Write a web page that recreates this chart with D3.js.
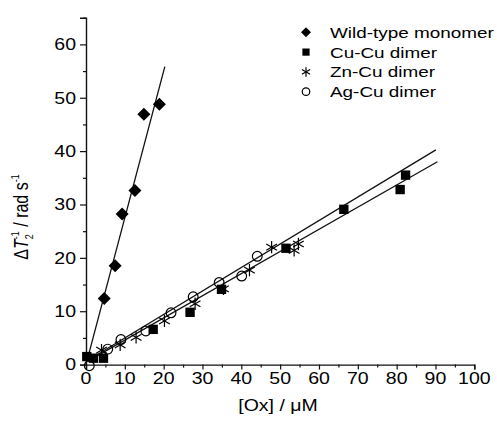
<!DOCTYPE html>
<html>
<head>
<meta charset="utf-8">
<script src="https://cdn.jsdelivr.net/npm/d3@7"></script>
<style>
  body { margin: 0; background: #fff; }
  text { font-family: "Liberation Sans", Arial, sans-serif; fill: #000; }
</style>
</head>
<body>
<div id="chart"></div>
<script>
// series names (legend order)
const seriesNames = ["Wild-type monomer", "Cu-Cu dimer", "Zn-Cu dimer", "Ag-Cu dimer"];
const seriesSymbols = ["diamond", "square", "star", "circle"];

// [Ox] (uM) and delta T2^-1 (rad/s)
const monoX = [4.7, 7.5, 9.3, 12.6, 14.9, 18.9];
const monoY = [12.4, 18.5, 28.2, 32.6, 46.9, 48.8];

const cuX = [0.2, 1.9, 4.5, 17.3, 26.8, 34.9, 51.5, 66.4, 80.9, 82.3];
const cuY = [1.5, 1.2, 1.2, 6.6, 9.8, 14.1, 21.8, 29.1, 32.8, 35.5];

const znX = [4.0, 8.8, 12.9, 20.2, 28.1, 35.4, 42.1, 47.8, 53.6, 54.7];
const znY = [2.7, 3.7, 5.1, 8.2, 11.4, 14.2, 17.7, 22.0, 21.4, 22.6];

const agX = [0.85, 5.6, 9.0, 15.4, 21.9, 27.6, 34.3, 40.1, 44.1];
const agY = [-0.2, 2.9, 4.7, 6.3, 9.7, 12.7, 15.4, 16.6, 20.3];

// linear fits: slope, intercept, x range
const fitSlopes = [2.75, 0.44, 0.415];
const fitIntercepts = [0.0, 0.6, 0.45];
const fitStart = [0.3, 0.5, 0.5];
const fitEnd = [20.3, 90.1, 90.5];

const xTicks = d3.range(0, 101, 10);
const yTicks = d3.range(0, 61, 10);

const W = 497, H = 421;
const stretch = 1.22;

const svg = d3.select("#chart").append("svg")
    .attr("width", W)
    .attr("height", H);

const x = d3.scaleLinear().domain([0, 100]).range([86, 474.3]);
const y = d3.scaleLinear().domain([0, 65]).range([364.6, 17.7]);

//Helper: text stretched horizontally like the scanned figure
function stretchedText(g, px, py, str, size, anchor) {
    return g.append("text")
        .attr("transform", "translate(" + px + "," + py + ") scale(" + stretch + ",1)")
        .attr("text-anchor", anchor)
        .style("font-size", size + "px")
        .text(str);
}

// fit lines
const lineG = svg.append("g");
fitSlopes.forEach(function(m, i) {
    lineG.append("line")
        .attr("x1", x(fitStart[i]))
        .attr("y1", y(m * fitStart[i] + fitIntercepts[i]))
        .attr("x2", x(fitEnd[i]))
        .attr("y2", y(m * fitEnd[i] + fitIntercepts[i]))
        .attr("stroke", "#111")
        .attr("stroke-width", 1.3);
});

// axes
const xAxis = d3.axisBottom(x).tickValues(xTicks).tickSize(5).tickFormat("");
const xMinor = d3.axisBottom(x).tickValues(d3.range(5, 100, 10)).tickSize(3).tickFormat("");
const yAxis = d3.axisLeft(y).tickValues(yTicks).tickSize(6).tickFormat("");
const yMinor = d3.axisLeft(y).tickValues(d3.range(5, 66, 10)).tickSize(3).tickFormat("");

const gx = svg.append("g").attr("transform", "translate(0," + y(0) + ")");
gx.call(xAxis);
gx.append("g").call(xMinor);
const gy = svg.append("g").attr("transform", "translate(" + x(0) + ",0)");
gy.call(yAxis);
gy.append("g").call(yMinor);
svg.selectAll(".domain").attr("stroke", "#111").attr("stroke-width", 1.4);
svg.selectAll(".tick line").attr("stroke", "#111").attr("stroke-width", 1.2);
gx.selectAll("g > g > .domain").remove();
gy.selectAll("g > g > .domain").remove();

xTicks.forEach(function(t) {
    stretchedText(svg, x(t), 383.5, t, 16, "middle");
});
yTicks.forEach(function(t) {
    stretchedText(svg, 76, y(t) + 5.8, t, 16, "end");
});

// axis titles
stretchedText(svg, 278, 411, "[Ox] / \u03bcM", 16, "middle");

const yLab = svg.append("text")
    .attr("transform", "translate(28,217) scale(" + stretch + ",1) rotate(-90)")
    .attr("text-anchor", "middle")
    .style("font-size", "16px");
yLab.append("tspan").text("\u0394");
yLab.append("tspan").style("font-style", "italic").text("T");
yLab.append("tspan").attr("dy", 4).style("font-size", "9px").text("2");
yLab.append("tspan").attr("dx", -5).attr("dy", -11).style("font-size", "9px").text("-1");
yLab.append("tspan").attr("dy", 7).text(" / rad s");
yLab.append("tspan").attr("dy", -7).style("font-size", "9px").text("-1");

// symbols
function drawSymbol(g, type, cx, cy, s) {
    if (type === "diamond") {
        g.append("path")
            .attr("d", "M" + cx + "," + (cy - s) + "L" + (cx + s) + "," + cy +
                "L" + cx + "," + (cy + s) + "L" + (cx - s) + "," + cy + "Z")
            .attr("fill", "#000");
    } else if (type === "square") {
        const h = s * 0.72;
        g.append("rect")
            .attr("x", cx - h).attr("y", cy - h)
            .attr("width", 2 * h).attr("height", 2 * h)
            .attr("fill", "#000");
    } else if (type === "circle") {
        g.append("circle")
            .attr("cx", cx).attr("cy", cy).attr("r", s * 0.75)
            .attr("fill", "none").attr("stroke", "#000").attr("stroke-width", 1.2);
    } else {
        const r = s * 0.95;
        [90, 30, -30].forEach(function(a) {
            const rad = a * Math.PI / 180;
            g.append("line")
                .attr("x1", cx - r * Math.cos(rad)).attr("y1", cy - r * Math.sin(rad))
                .attr("x2", cx + r * Math.cos(rad)).attr("y2", cy + r * Math.sin(rad))
                .attr("stroke", "#000").attr("stroke-width", 1.2);
        });
    }
}

const seriesX = [monoX, cuX, znX, agX];
const seriesY = [monoY, cuY, znY, agY];
const markG = svg.append("g");
seriesX.forEach(function(xs, i) {
    xs.forEach(function(v, j) {
        drawSymbol(markG, seriesSymbols[i], x(v), y(seriesY[i][j]), 6.5);
    });
});

// legend
const legend = svg.append("g");
seriesNames.forEach(function(name, i) {
    const ly = 32.3 + i * 19.8;
    drawSymbol(legend, seriesSymbols[i], 306, ly, 5);
    stretchedText(legend, 330, ly + 5.5, name, 15.5, "start");
});
</script>
</body>
</html>
